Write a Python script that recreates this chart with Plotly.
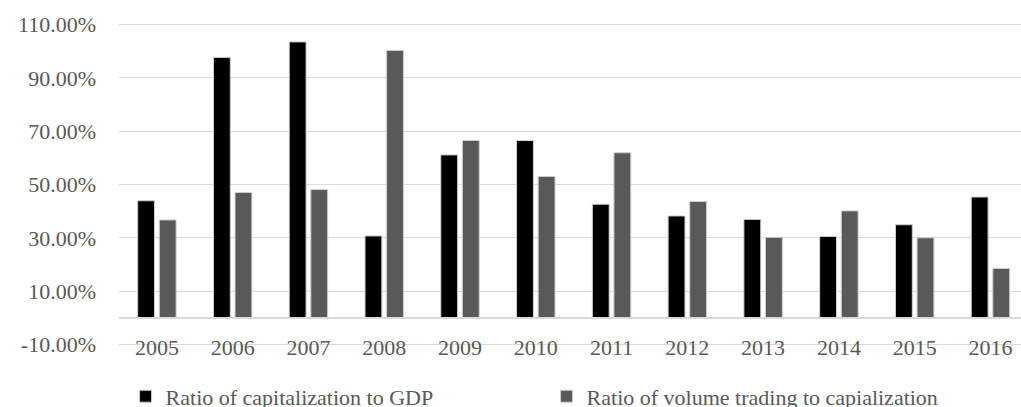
import plotly.graph_objects as go

years = ["2005", "2006", "2007", "2008", "2009", "2010",
         "2011", "2012", "2013", "2014", "2015", "2016"]
cap_to_gdp = [0.439, 0.977, 1.035, 0.307, 0.611, 0.665,
              0.426, 0.382, 0.369, 0.305, 0.349, 0.453]
vol_to_cap = [0.367, 0.470, 0.481, 1.003, 0.665, 0.530,
              0.619, 0.436, 0.302, 0.401, 0.300, 0.185]
series_names = ["Ratio of capitalization to GDP",
                "Ratio of volume trading to capialization"]
y_tickvals = [-0.10, 0.10, 0.30, 0.50, 0.70, 0.90, 1.10]
y_ticktext = ["-10.00%", "10.00%", "30.00%", "50.00%", "70.00%", "90.00%", "110.00%"]

FONT = "Liberation Serif, Times New Roman, serif"
TXT = "#595959"
GRID = "#d9d9d9"

Y_LO, Y_HI = -0.106, 1.106

fig = go.Figure()
fig.add_trace(go.Bar(x=years, y=cap_to_gdp, name=series_names[0],
                     marker=dict(color="#000000", line=dict(color="#cfcfcf", width=1))))
fig.add_trace(go.Bar(x=years, y=vol_to_cap, name=series_names[1],
                     marker=dict(color="#595959", line=dict(color="#cfcfcf", width=1))))

fig.update_layout(
    width=1021, height=407,
    margin=dict(l=119, r=0, t=23, b=61, autoexpand=False),
    paper_bgcolor="white", plot_bgcolor="white",
    font=dict(family=FONT, size=22, color=TXT),
    barmode="group", bargap=0.43, bargroupgap=0.22,
    showlegend=True,
    legend=dict(orientation="h", xref="container", yref="container",
                x=0.123, y=0.026, xanchor="left", yanchor="middle",
                entrywidth=376, font=dict(family=FONT, size=22, color=TXT),
                bgcolor="rgba(0,0,0,0)", itemclick=False),
    xaxis=dict(type="category", range=[-0.5, 11.403], anchor="free",
               position=-Y_LO / (Y_HI - Y_LO), showline=True, linecolor=GRID, linewidth=1.5,
               showgrid=False, ticks="", ticklabelstandoff=10,
               tickfont=dict(family=FONT, size=22, color=TXT)),
    yaxis=dict(range=[Y_LO, Y_HI], domain=[0, 1], tickvals=y_tickvals,
               ticktext=y_ticktext, showgrid=True, gridcolor=GRID, gridwidth=1.3,
               zeroline=False, showline=False, ticks="", ticklabelstandoff=22,
               tickfont=dict(family=FONT, size=22, color=TXT)),
)

fig.write_html(
    "out.html",
    config={"displayModeBar": False},
    post_script="document.body.style.margin='0';document.body.style.padding='0';"
                "document.body.style.overflow='hidden';",
)
